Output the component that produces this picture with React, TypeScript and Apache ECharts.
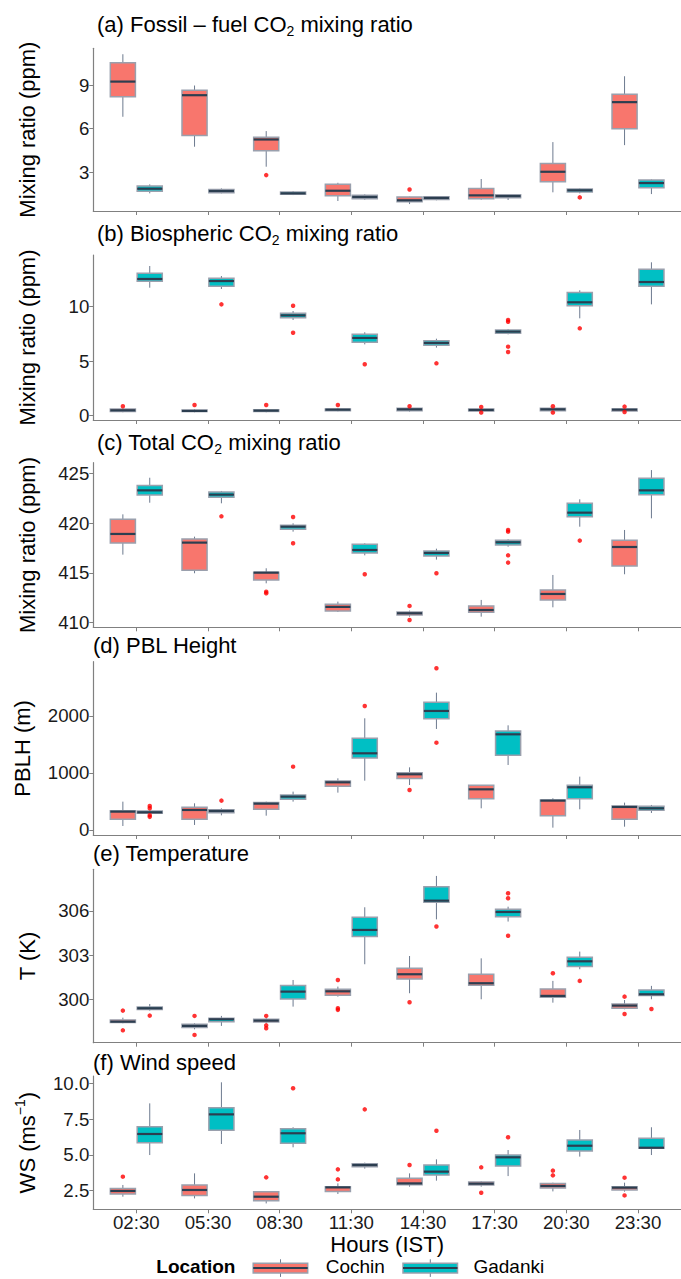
import React, { useEffect, useRef } from 'react';
import * as echarts from 'echarts';

// ---------- data ----------
const hours = ['02:30', '05:30', '08:30', '11:30', '14:30', '17:30', '20:30', '23:30'];
const locations = ['Cochin', 'Gadanki'];

// each box: [lower whisker, Q1, median, Q3, upper whisker]; outliers: [hour index (1-8), value]
const fossilCochin = [
  [6.82, 8.2, 9.25, 10.56, 11.14],
  [4.75, 5.53, 8.31, 8.66, 8.98],
  [3.37, 4.47, 5.25, 5.41, 5.83],
  [1.0, 1.37, 1.71, 2.15, 2.26],
  [0.79, 0.95, 1.05, 1.28, 1.3],
  [1.09, 1.16, 1.39, 1.87, 2.52],
  [1.6, 2.33, 3.02, 3.6, 5.07],
  [4.86, 5.99, 7.83, 8.38, 9.62],
];
const fossilGadanki = [
  [1.53, 1.67, 1.85, 2.03, 2.15],
  [1.53, 1.57, 1.69, 1.8, 1.87],
  [1.41, 1.46, 1.53, 1.62, 1.69],
  [1.09, 1.16, 1.28, 1.39, 1.46],
  [1.05, 1.11, 1.21, 1.3, 1.34],
  [1.07, 1.23, 1.34, 1.44, 1.48],
  [1.53, 1.62, 1.74, 1.83, 1.87],
  [1.48, 1.92, 2.24, 2.45, 2.49],
];
const fossilCochinOut = [[3, 2.79], [5, 1.8]];
const fossilGadankiOut = [[7, 1.25]];

const bioCochin = [
  [0.31, 0.37, 0.49, 0.61, 0.67],
  [0.31, 0.37, 0.43, 0.52, 0.61],
  [0.31, 0.37, 0.46, 0.55, 0.61],
  [0.4, 0.46, 0.55, 0.61, 0.7],
  [0.37, 0.46, 0.58, 0.67, 0.75],
  [0.37, 0.43, 0.52, 0.61, 0.67],
  [0.37, 0.46, 0.58, 0.67, 0.73],
  [0.37, 0.43, 0.55, 0.61, 0.67],
];
const bioGadanki = [
  [11.74, 12.32, 12.54, 13.06, 13.73],
  [11.62, 11.87, 12.35, 12.6, 12.81],
  [8.78, 8.99, 9.2, 9.39, 9.6],
  [6.54, 6.73, 7.13, 7.46, 7.65],
  [6.24, 6.45, 6.67, 6.88, 7.06],
  [7.46, 7.55, 7.71, 7.86, 7.95],
  [8.93, 10.09, 10.4, 11.31, 11.5],
  [10.21, 11.87, 12.26, 13.43, 14.07],
];
const bioCochinOut = [[1, 0.86], [2, 0.98], [3, 0.98], [4, 0.98], [5, 0.86], [6, 0.8], [6, 0.28], [7, 0.86], [7, 0.28], [8, 0.83], [8, 0.34]];
const bioGadankiOut = [[2, 10.21], [3, 10.09], [3, 7.61], [4, 4.71], [5, 4.8], [6, 8.78], [6, 8.62], [6, 6.33], [6, 5.84], [7, 8.01]];

const totalCochin = [
  [416.83, 418.0, 418.91, 420.38, 420.88],
  [414.96, 415.26, 418.04, 418.4, 418.64],
  [413.95, 414.29, 415.02, 415.06, 415.46],
  [411.07, 411.17, 411.58, 411.84, 412.11],
  [410.6, 410.77, 410.94, 411.07, 411.21],
  [410.6, 411.04, 411.27, 411.68, 412.28],
  [411.54, 412.28, 412.88, 413.28, 414.79],
  [414.86, 415.69, 417.6, 418.27, 419.31],
];
const totalGadanki = [
  [422.05, 422.82, 423.29, 423.79, 424.56],
  [421.99, 422.59, 422.86, 423.13, 423.23],
  [419.14, 419.38, 419.64, 419.78, 419.98],
  [416.76, 417.0, 417.3, 417.87, 417.97],
  [416.33, 416.7, 417.0, 417.2, 417.43],
  [417.63, 417.8, 418.07, 418.27, 418.37],
  [419.64, 420.65, 421.05, 421.99, 422.39],
  [420.48, 422.86, 423.29, 424.5, 425.33],
];
const totalCochinOut = [[3, 413.11], [3, 412.95], [5, 411.68], [5, 410.27]];
const totalGadankiOut = [[2, 420.68], [3, 420.61], [3, 417.97], [4, 414.86], [5, 414.96], [6, 419.31], [6, 419.14], [6, 416.76], [6, 416.03], [7, 418.24]];

const pblCochin = [
  [70, 187, 322, 339, 497],
  [88, 187, 351, 398, 468],
  [251, 363, 462, 480, 497],
  [655, 766, 836, 860, 906],
  [789, 901, 977, 1006, 1099],
  [380, 550, 713, 784, 789],
  [41, 251, 515, 526, 556],
  [58, 187, 404, 421, 480],
];
const pblGadanki = [
  [281, 292, 310, 333, 345],
  [257, 304, 333, 357, 380],
  [497, 538, 585, 614, 673],
  [865, 1263, 1345, 1608, 1959],
  [1772, 1953, 2088, 2240, 2409],
  [1140, 1310, 1678, 1737, 1836],
  [363, 550, 749, 784, 936],
  [298, 345, 380, 415, 439],
];
const pblCochinOut = [[5, 702]];
const pblGadankiOut = [[1, 420], [1, 380], [1, 260], [1, 230], [2, 515], [3, 1111], [4, 2175], [5, 2836], [5, 1532]];

const tempCochin = [
  [298.37, 298.42, 298.48, 298.6, 298.75],
  [297.96, 298.08, 298.19, 298.3, 298.37],
  [298.37, 298.46, 298.55, 298.64, 298.71],
  [300.18, 300.27, 300.54, 300.68, 300.86],
  [300.41, 301.38, 301.7, 302.11, 302.94],
  [300.0, 300.95, 301.09, 301.7, 302.78],
  [299.77, 300.14, 300.23, 300.7, 301.25],
  [299.32, 299.39, 299.57, 299.68, 299.95],
];
const tempGadanki = [
  [299.23, 299.3, 299.39, 299.48, 299.68],
  [298.19, 298.48, 298.64, 298.71, 298.87],
  [299.5, 300.02, 300.52, 300.93, 301.31],
  [302.38, 304.26, 304.71, 305.57, 306.25],
  [305.43, 306.59, 306.7, 307.65, 308.38],
  [305.28, 305.61, 305.93, 306.11, 306.29],
  [302.04, 302.22, 302.58, 302.85, 303.24],
  [300.0, 300.25, 300.34, 300.63, 300.91],
];
const tempCochinOut = [[1, 299.23], [1, 297.89], [2, 298.87], [2, 297.58], [3, 298.87], [3, 298.23], [3, 298.03], [4, 301.31], [4, 299.39], [4, 299.28], [5, 299.8], [7, 301.77], [8, 300.18], [8, 299.0]];
const tempGadankiOut = [[1, 298.89], [5, 304.94], [6, 307.2], [6, 306.86], [6, 304.32], [7, 301.25], [8, 299.34]];

const wsCochin = [
  [2.08, 2.27, 2.48, 2.66, 2.9],
  [1.96, 2.17, 2.55, 2.9, 3.71],
  [1.61, 1.8, 2.08, 2.43, 2.43],
  [2.27, 2.45, 2.73, 2.78, 3.01],
  [2.78, 2.92, 3.01, 3.36, 3.71],
  [2.78, 2.9, 2.99, 3.11, 3.17],
  [2.45, 2.69, 2.83, 3.01, 3.06],
  [2.43, 2.55, 2.71, 2.78, 3.06],
];
const wsGadanki = [
  [4.99, 5.85, 6.46, 6.97, 8.6],
  [5.76, 6.72, 7.83, 8.3, 10.07],
  [5.53, 5.81, 6.51, 6.83, 6.93],
  [4.04, 4.18, 4.29, 4.39, 4.46],
  [3.2, 3.59, 3.83, 4.29, 4.69],
  [3.52, 4.22, 4.83, 4.99, 5.34],
  [4.88, 5.27, 5.64, 6.04, 6.74],
  [4.99, 5.46, 5.5, 6.16, 6.93],
];
const wsCochinOut = [[1, 3.48], [3, 3.43], [4, 3.99], [4, 3.29], [5, 4.29], [6, 4.13], [6, 2.36], [7, 3.9], [7, 3.57], [8, 3.41], [8, 2.17]];
const wsGadankiOut = [[3, 9.65], [4, 8.18], [5, 6.69], [6, 6.23]];

// tick labels
const fossilTicks = [3, 6, 9];
const bioTicks = [0, 5, 10];
const totalTicks = [410, 415, 420, 425];
const pblTicks = [0, 1000, 2000];
const tempTicks = [300, 303, 306];
const wsTicks = [2.5, 5, 7.5, 10];

// ---------- style ----------
const FONT = '"Liberation Sans", Arial, Helvetica, sans-serif';
const FILLS = ['#F8766D', '#00BFC4'];
const BORDER = '#9aa0ad';
const WHISKER = '#6d7a8f';
const MEDIAN = '#2c3e50';
const OUTLIER = '#ff0000';
const AXIS = '#808080';
const TEXT = '#1a1a1a';
const DODGE = 0.1875;
const BOX_W = 0.35;

const panels = [
  { title: '(a) Fossil – fuel CO{sub|2} mixing ratio', yName: 'Mixing ratio (ppm)', min: 0.31, max: 11.55, ticks: fossilTicks, dec: 0, top: 48.3, height: 162.7, tLeft: 97, tTop: 10, data: [fossilCochin, fossilGadanki], out: [fossilCochinOut, fossilGadankiOut] },
  { title: '(b) Biospheric CO{sub|2} mixing ratio', yName: 'Mixing ratio (ppm)', min: -0.4, max: 14.74, ticks: bioTicks, dec: 0, top: 255, height: 165, tLeft: 97, tTop: 219, data: [bioCochin, bioGadanki], out: [bioCochinOut, bioGadankiOut] },
  { title: '(c) Total CO{sub|2} mixing ratio', yName: 'Mixing ratio (ppm)', min: 409.53, max: 426.07, ticks: totalTicks, dec: 0, top: 462.7, height: 164.6, tLeft: 97, tTop: 428, data: [totalCochin, totalGadanki], out: [totalCochinOut, totalGadankiOut] },
  { title: '(d) PBL Height', yName: 'PBLH (m)', min: -88, max: 2952, ticks: pblTicks, dec: 0, top: 661.7, height: 173.3, tLeft: 93, tTop: 631, data: [pblCochin, pblGadanki], out: [pblCochinOut, pblGadankiOut] },
  { title: '(e) Temperature', yName: 'T (K)', min: 297.05, max: 308.83, ticks: tempTicks, dec: 0, top: 869.3, height: 173.4, tLeft: 93, tTop: 839, data: [tempCochin, tempGadanki], out: [tempCochinOut, tempGadankiOut] },
  { title: '(f) Wind speed', yName: 'WS (ms{sup|−1})', min: 1.2, max: 10.51, ticks: wsTicks, dec: 1, top: 1076, height: 133.3, tLeft: 93, tTop: 1048, data: [wsCochin, wsGadanki], out: [wsCochinOut, wsGadankiOut] },
];

const GRID_LEFT = 93.3;
const GRID_WIDTH = 595.2;
const catIdx = hours.map((_, i) => i + 1);

function boxRenderer(offset: number, fill: string) {
  return (_params: any, api: any) => {
    const c = api.value(0) + offset;
    const lo = api.coord([c, api.value(1)]);
    const q1 = api.coord([c, api.value(2)]);
    const md = api.coord([c, api.value(3)]);
    const q3 = api.coord([c, api.value(4)]);
    const hi = api.coord([c, api.value(5)]);
    const w = api.size([BOX_W, 0])[0];
    const x = q1[0];
    return {
      type: 'group',
      children: [
        { type: 'line', shape: { x1: x, y1: q3[1], x2: x, y2: hi[1] }, style: { stroke: WHISKER, lineWidth: 1 } },
        { type: 'line', shape: { x1: x, y1: q1[1], x2: x, y2: lo[1] }, style: { stroke: WHISKER, lineWidth: 1 } },
        { type: 'rect', shape: { x: x - w / 2, y: q3[1], width: w, height: q1[1] - q3[1] }, style: { fill, stroke: BORDER, lineWidth: 1.5 } },
        { type: 'line', shape: { x1: x - w / 2, y1: md[1], x2: x + w / 2, y2: md[1] }, style: { stroke: MEDIAN, lineWidth: 2.2 } },
      ],
    };
  };
}

export default function App() {
  const ref = useRef<HTMLDivElement>(null);
  useEffect(() => {
    document.body.style.margin = '0';
    if (!ref.current) return;
    const chart = echarts.init(ref.current, null, { renderer: 'svg' });
    const last = panels.length - 1;
    const grids: any[] = [];
    const xAxes: any[] = [];
    const yAxes: any[] = [];
    const series: any[] = [];
    const titles: any[] = [];
    panels.forEach((p, i) => {
      grids.push({ left: GRID_LEFT, width: GRID_WIDTH, top: p.top, height: p.height });
      titles.push({
        text: p.title, left: p.tLeft, top: p.tTop, padding: 0,
        textStyle: {
          fontFamily: FONT, fontSize: 22, fontWeight: 'normal', color: '#000', lineHeight: 28,
          rich: { sub: { fontFamily: FONT, fontSize: 14, lineHeight: 14, verticalAlign: 'bottom', color: '#000' } },
        },
      });
      xAxes.push({
        type: 'value', gridIndex: i, min: 0.4, max: 8.6,
        splitLine: { show: false },
        axisLine: { show: true, onZero: false, lineStyle: { color: AXIS, width: 1.2 } },
        axisTick: { show: true, customValues: catIdx, length: 4, lineStyle: { color: AXIS } },
        axisLabel: {
          show: i === last, customValues: catIdx, formatter: (v: number) => hours[Math.round(v) - 1],
          fontFamily: FONT, fontSize: 18.67, color: TEXT, margin: 4,
        },
        name: i === last ? 'Hours (IST)' : '', nameLocation: 'middle', nameGap: 23,
        nameTextStyle: { fontFamily: FONT, fontSize: 22, color: '#000' },
      });
      yAxes.push({
        type: 'value', gridIndex: i, min: p.min, max: p.max,
        splitLine: { show: false },
        axisLine: { show: true, onZero: false, lineStyle: { color: AXIS, width: 1.2 } },
        axisTick: { show: true, customValues: p.ticks, length: 4, lineStyle: { color: AXIS } },
        axisLabel: {
          customValues: p.ticks, formatter: (v: number) => v.toFixed(p.dec),
          fontFamily: FONT, fontSize: 18.67, color: TEXT, margin: 4,
        },
        name: p.yName, nameLocation: 'middle', nameRotate: 90, nameGap: 52,
        nameTextStyle: {
          fontFamily: FONT, fontSize: 22, color: '#000', lineHeight: 28,
          rich: { sup: { fontFamily: FONT, fontSize: 14, lineHeight: 14, verticalAlign: 'top', color: '#000' } },
        },
      });
      locations.forEach((loc, k) => {
        const off = k === 0 ? -DODGE : DODGE;
        series.push({
          type: 'custom', name: loc, xAxisIndex: i, yAxisIndex: i,
          renderItem: boxRenderer(off, FILLS[k]),
          encode: { x: 0, y: [1, 2, 3, 4, 5] },
          data: p.data[k].map((b, j) => [j + 1, ...b]),
        });
        series.push({
          type: 'scatter', name: loc + ' outliers', xAxisIndex: i, yAxisIndex: i,
          symbol: 'circle', symbolSize: 4.5,
          itemStyle: { color: OUTLIER },
          data: p.out[k].map(([c, v]) => [c + off, v]),
        });
      });
    });

    const legendY = 1268;
    const keyTop = 1263.3;
    const keyH = 9.6;
    const legendKeys = [253.2, 403].map((kx, k) => ({
      type: 'group',
      children: [
        { type: 'line', shape: { x1: kx + 27.3, y1: keyTop - 4, x2: kx + 27.3, y2: keyTop + keyH + 4 }, style: { stroke: WHISKER, lineWidth: 1 } },
        { type: 'rect', shape: { x: kx, y: keyTop, width: 54.5, height: keyH }, style: { fill: FILLS[k], stroke: BORDER, lineWidth: 1.5 } },
        { type: 'line', shape: { x1: kx, y1: legendY, x2: kx + 54.5, y2: legendY }, style: { stroke: MEDIAN, lineWidth: 2.2 } },
      ],
    }));

    chart.setOption({
      animation: false,
      textStyle: { fontFamily: FONT },
      title: titles,
      grid: grids,
      xAxis: xAxes,
      yAxis: yAxes,
      series,
      graphic: [
        { type: 'text', left: 156.3, top: legendY - 11, style: { text: 'Location', fontFamily: FONT, fontSize: 19, fontWeight: 'bold', fill: '#000' } },
        ...legendKeys,
        { type: 'text', left: 325.7, top: legendY - 11, style: { text: locations[0], fontFamily: FONT, fontSize: 19, fill: '#000' } },
        { type: 'text', left: 473.4, top: legendY - 11, style: { text: locations[1], fontFamily: FONT, fontSize: 19, fill: '#000' } },
      ],
    });
    return () => chart.dispose();
  }, []);
  return <div ref={ref} style={{ width: 681, height: 1279 }} />;
}
